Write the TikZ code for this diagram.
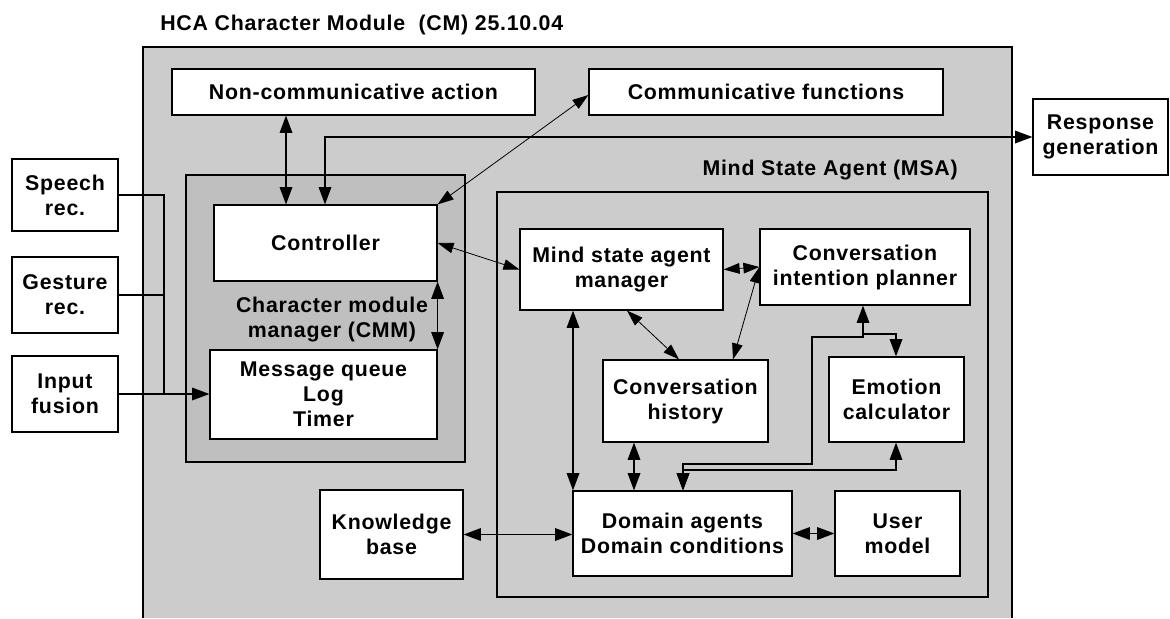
\documentclass[tikz,border=0pt]{standalone}
\usepackage{fontspec}
\setmainfont{Liberation Sans}[LetterSpace=3.5]
\usetikzlibrary{arrows.meta}
\definecolor{cmgray}{RGB}{204,204,204}
\definecolor{cmmgray}{RGB}{191,191,191}
\begin{document}
\begin{tikzpicture}[x=0.75pt,y=-0.75pt,
  txt/.style={font=\fontsize{16}{18.75}\selectfont\bfseries},
  box/.style={draw, fill=white, line width=0.9pt, inner sep=0pt, align=center, txt},
  lbl/.style={inner sep=0pt, align=center, txt},
  conn/.style={line width=0.9pt},
  both/.style={conn, {Triangle[length=13pt,width=9.5pt]}-{Triangle[length=13pt,width=9.5pt]}},
  one/.style={conn, -{Triangle[length=13pt,width=9.5pt]}},
  diag/.style={line width=0.6pt, {Triangle[length=12pt,width=8pt]}-{Triangle[length=12pt,width=8pt]}},
]
\useasboundingbox (0,0) rectangle (1170,618);

% title
\node[lbl, anchor=base west] (title) at (160,30) {HCA Character Module \ (CM) 25.10.04};

% outer CM box (runs off the bottom)
\fill[cmgray] (143,47) rectangle (1012,618);
\draw[line width=0.9pt] (143,618) |- (1012,47) -- (1012,618);

% CMM box
\draw[line width=0.9pt, fill=cmmgray] (186,175) rectangle (465,462);
\node[lbl] (cmmlabel) at (332,320) {Character module\\manager (CMM)};

% MSA box
\draw[line width=0.9pt, fill=cmgray] (497,192) rectangle (988,597);
\node[lbl, anchor=base east] (msalabel) at (958,175) {Mind State Agent (MSA)};

% outside boxes
\node[box, minimum width=79.5pt, minimum height=54pt] (speech) at (65,195) {Speech\\rec.};
\node[box, minimum width=79.5pt, minimum height=57pt] (gesture) at (65,295) {Gesture\\rec.};
\node[box, minimum width=79.5pt, minimum height=57pt] (input) at (65,394) {Input\\fusion};
\node[box, minimum width=101.25pt, minimum height=57pt] (response) at (1100.5,137) {Response\\generation};

% CM boxes
\node[box, minimum width=272.25pt, minimum height=34.5pt] (noncomm) at (353.5,92) {Non-communicative action};
\node[box, minimum width=265.5pt, minimum height=34.5pt] (comm) at (766,92) {Communicative functions};
\node[box, minimum width=167.25pt, minimum height=57pt] (controller) at (325.5,243) {Controller};
\node[box, minimum width=170.25pt, minimum height=66.75pt] (msgq) at (323.5,394.5) {Message queue\\Log\\Timer};
\node[box, minimum width=107.25pt, minimum height=66.75pt] (knowledge) at (391.5,534.5) {Knowledge\\base};

% MSA boxes
\node[box, minimum width=152.25pt, minimum height=60.75pt] (manager) at (621.5,269.5) {Mind state agent\\manager};
\node[box, minimum width=157.5pt, minimum height=57pt] (planner) at (865,267) {Conversation\\intention planner};
\node[box, minimum width=123.75pt, minimum height=61.5pt] (history) at (685.5,401) {Conversation\\history};
\node[box, minimum width=101.25pt, minimum height=63.75pt] (emotion) at (896.5,399.5) {Emotion\\calculator};
\node[box, minimum width=164.25pt, minimum height=63.75pt] (domain) at (682.5,533.5) {Domain agents\\Domain conditions};
\node[box, minimum width=93.75pt, minimum height=63.75pt] (user) at (897.5,533.5) {User\\model};

% inputs
\draw[conn] (speech.east) -- (164,0 |- speech.east) -- (164,0 |- input.east);
\draw[conn] (gesture.east) -- (164,0 |- gesture.east);
\draw[one] (input.east) -- (msgq.west |- input.east);

% controller links
\draw[both] (286,0 |- noncomm.south) -- (286,0 |- controller.north);
\draw[both] (325,0 |- controller.north) |- (response.west);
\draw[diag] (comm.west |- 0,95) -- (controller.north east);
\draw[both] (controller.south east) -- (controller.south east |- msgq.north);
\draw[diag] (controller.east) -- (manager.west);

% MSA links
\draw[diag] (manager.east) -- (planner.west);
\draw[diag] (planner.west) -- (733,0 |- history.north);
\draw[diag] (627,0 |- manager.south) -- (679,0 |- history.north);
\draw[both] (573,0 |- manager.south) -- (573,0 |- domain.north);
\draw[both] (634,0 |- history.south) -- (634,0 |- domain.north);
\coordinate (jp) at (863,334);
\draw[both] (863,0 |- planner.south) -- (863,337) -- (812,337) -- (812,464) -- (683,464) -- (683,0 |- domain.north);
\draw[one] (jp) -- (896,334) -- (896,0 |- emotion.north);
\draw[both] (896,0 |- emotion.south) -- (896,470) -- (683,470) -- (683,0 |- domain.north);
\draw[both] (knowledge.east) -- (knowledge.east -| domain.west);
\draw[both] (domain.east) -- (user.west);
\end{tikzpicture}
\end{document}
